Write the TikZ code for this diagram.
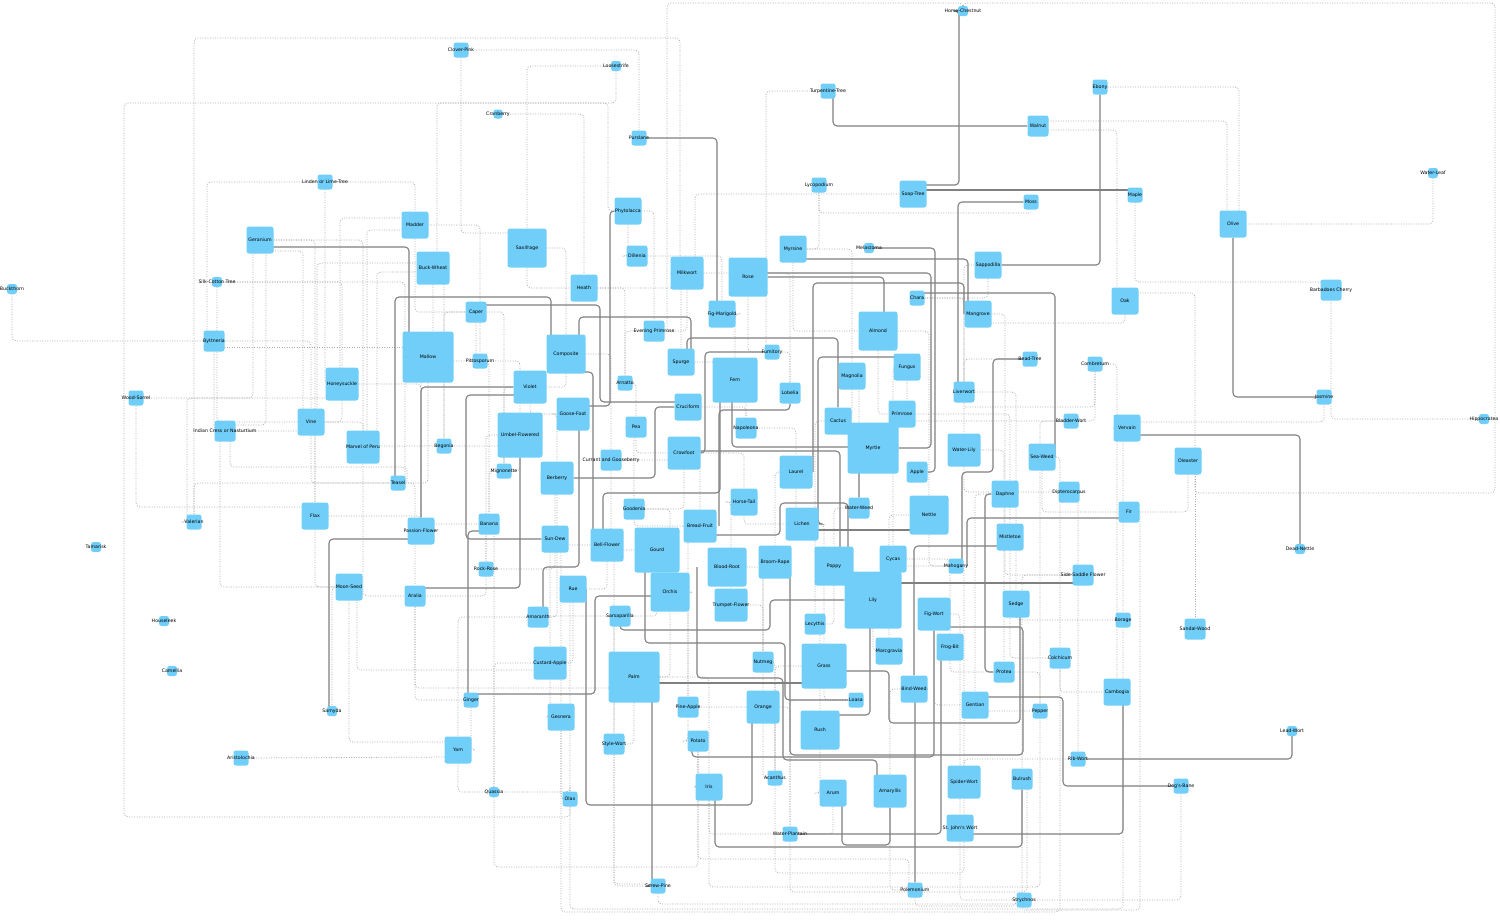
\documentclass[tikz,border=0pt]{standalone}
\usepackage{fontspec}
\usepackage{xcolor}
\usepackage{tikz}
\usetikzlibrary{backgrounds}
\newfontfamily\plantfont{DejaVu Sans}
\definecolor{plantblue}{RGB}{112,206,248}
\definecolor{linkgray}{RGB}{128,128,128}
\definecolor{faintgray}{RGB}{172,172,172}
% label that may run past its box
\newcommand{\pname}[1]{\makebox[0pt]{#1}}

\begin{document}
\begin{tikzpicture}[x=1pt, y=-1pt,
    plant/.style={fill=plantblue, rounded corners=2.5pt, minimum size=#1, inner sep=0pt, text=black, font=\plantfont\fontsize{4.7}{5}\selectfont},
    link/.style={draw=linkgray, line width=1.1pt, rounded corners=4pt},
    faint/.style={draw=faintgray, line width=0.75pt, dash pattern=on 1pt off 1.5pt, rounded corners=4pt}
]
    \useasboundingbox (0,0) rectangle (1500,919);

    % Plants
    \node[plant=10] (horsechestnut) at (963,11) {\pname{Horse-Chestnut}};
    \node[plant=15] (cloverpink) at (461,50) {\pname{Clover-Pink}};
    \node[plant=10] (loosestrife) at (616,66) {\pname{Loosestrife}};
    \node[plant=9] (cranberry) at (498,114) {\pname{Cranberry}};
    \node[plant=15] (turpentine) at (828,91) {\pname{Turpentine-Tree}};
    \node[plant=15] (ebony) at (1100,87) {\pname{Ebony}};
    \node[plant=21] (walnut) at (1038,126) {\pname{Walnut}};
    \node[plant=15] (purslane) at (639,138) {\pname{Purslane}};
    \node[plant=15] (linden) at (325,182) {\pname{Linden or Lime-Tree}};
    \node[plant=15] (lycopodium) at (819,185) {\pname{Lycopodium}};
    \node[plant=27] (soaptree) at (913,194) {\pname{Soap-Tree}};
    \node[plant=15] (maple) at (1135,195) {\pname{Maple}};
    \node[plant=15] (moss) at (1031,202) {\pname{Moss}};
    \node[plant=10] (waterleaf) at (1433,173) {\pname{Water-Leaf}};
    \node[plant=27] (olive) at (1233,224) {\pname{Olive}};
    \node[plant=27] (geranium) at (260,240) {\pname{Geranium}};
    \node[plant=27] (madder) at (415,225) {\pname{Madder}};
    \node[plant=39] (saxifrage) at (527,248) {\pname{Saxifrage}};
    \node[plant=27] (phytolacca) at (628,211) {\pname{Phytolacca}};
    \node[plant=10] (silkcotton) at (217,282) {\pname{Silk-Cotton Tree}};
    \node[plant=10] (buckthorn) at (12,289) {\pname{Buckthorn}};
    \node[plant=33] (buckwheat) at (433,268) {\pname{Buck-Wheat}};
    \node[plant=21] (dillenia) at (637,256) {\pname{Dillenia}};
    \node[plant=33] (milkwort) at (687,273) {\pname{Milkwort}};
    \node[plant=39] (rose) at (748,277) {\pname{Rose}};
    \node[plant=27] (myrsine) at (793,249) {\pname{Myrsine}};
    \node[plant=10] (melastoma) at (869,248) {\pname{Melastoma}};
    \node[plant=27] (sappodilla) at (988,265) {\pname{Sappodilla}};
    \node[plant=27] (heath) at (584,288) {\pname{Heath}};
    \node[plant=15] (chara) at (917,298) {\pname{Chara}};
    \node[plant=21] (barbadoes) at (1331,290) {\pname{Barbadoes Cherry}};
    \node[plant=27] (oak) at (1125,301) {\pname{Oak}};
    \node[plant=27] (mangrove) at (978,314) {\pname{Mangrove}};
    \node[plant=27] (figmarigold) at (722,314) {\pname{Fig-Marigold}};
    \node[plant=21] (caper) at (476,312) {\pname{Caper}};
    \node[plant=21] (byttneria) at (214,341) {\pname{Byttneria}};
    \node[plant=51] (mallow) at (428,357) {\pname{Mallow}};
    \node[plant=15] (pittosporum) at (480,361) {\pname{Pittosporum}};
    \node[plant=39] (composite) at (566,354) {\pname{Composite}};
    \node[plant=21] (eveningprimrose) at (654,331) {\pname{Evening Primrose}};
    \node[plant=39] (almond) at (878,331) {\pname{Almond}};
    \node[plant=27] (spurge) at (681,362) {\pname{Spurge}};
    \node[plant=15] (fumitory) at (772,352) {\pname{Fumitory}};
    \node[plant=45] (fern) at (735,380) {\pname{Fern}};
    \node[plant=27] (magnolia) at (852,376) {\pname{Magnolia}};
    \node[plant=27] (fungus) at (907,367) {\pname{Fungus}};
    \node[plant=15] (beadtree) at (1030,359) {\pname{Bead-Tree}};
    \node[plant=15] (combretum) at (1095,364) {\pname{Combretum}};
    \node[plant=33] (honeysuckle) at (342,384) {\pname{Honeysuckle}};
    \node[plant=33] (violet) at (530,387) {\pname{Violet}};
    \node[plant=15] (arnatto) at (625,383) {\pname{Arnatto}};
    \node[plant=21] (lobelia) at (790,393) {\pname{Lobelia}};
    \node[plant=21] (liverwort) at (964,392) {\pname{Liverwort}};
    \node[plant=15] (jasmine) at (1324,397) {\pname{Jasmine}};
    \node[plant=15] (woodsorrel) at (136,398) {\pname{Wood-Sorrel}};
    \node[plant=27] (cruciform) at (688,407) {\pname{Cruciform}};
    \node[plant=27] (cactus) at (838,421) {\pname{Cactus}};
    \node[plant=27] (primrose) at (902,414) {\pname{Primrose}};
    \node[plant=15] (bladderwort) at (1071,421) {\pname{Bladder-Wort}};
    \node[plant=27] (vervain) at (1127,428) {\pname{Vervain}};
    \node[plant=10] (hippocratea) at (1484,419) {\pname{Hippocratea}};
    \node[plant=21] (indiancress) at (225,431) {\pname{Indian Cress or Nasturtium}};
    \node[plant=27] (vine) at (311,422) {\pname{Vine}};
    \node[plant=33] (goosefoot) at (573,414) {\pname{Goose-Foot}};
    \node[plant=21] (pea) at (636,427) {\pname{Pea}};
    \node[plant=21] (napoleona) at (746,428) {\pname{Napoleona}};
    \node[plant=51] (myrtle) at (873,448) {\pname{Myrtle}};
    \node[plant=45] (umbel) at (520,435) {\pname{Umbel-Flowered}};
    \node[plant=33] (marvel) at (363,447) {\pname{Marvel of Peru}};
    \node[plant=15] (begonia) at (444,446) {\pname{Begonia}};
    \node[plant=21] (currant) at (611,460) {\pname{Currant and Gooseberry}};
    \node[plant=33] (crowfoot) at (684,453) {\pname{Crowfoot}};
    \node[plant=33] (waterlily) at (964,450) {\pname{Water-Lily}};
    \node[plant=27] (seaweed) at (1042,457) {\pname{Sea-Weed}};
    \node[plant=27] (oleaster) at (1188,461) {\pname{Oleaster}};
    \node[plant=15] (mignonette) at (504,471) {\pname{Mignonette}};
    \node[plant=33] (berberry) at (557,478) {\pname{Berberry}};
    \node[plant=33] (laurel) at (796,472) {\pname{Laurel}};
    \node[plant=21] (apple) at (917,472) {\pname{Apple}};
    \node[plant=15] (teasel) at (398,483) {\pname{Teasel}};
    \node[plant=27] (daphne) at (1005,494) {\pname{Daphne}};
    \node[plant=21] (dipterocarpus) at (1069,492) {\pname{Dipterocarpus}};
    \node[plant=27] (horsetail) at (744,502) {\pname{Horse-Tail}};
    \node[plant=21] (waterweed) at (859,508) {\pname{Water-Weed}};
    \node[plant=21] (goodenia) at (634,509) {\pname{Goodenia}};
    \node[plant=39] (nettle) at (929,515) {\pname{Nettle}};
    \node[plant=21] (fir) at (1129,512) {\pname{Fir}};
    \node[plant=27] (flax) at (315,516) {\pname{Flax}};
    \node[plant=15] (valerian) at (194,522) {\pname{Valerian}};
    \node[plant=27] (passionflower) at (421,531) {\pname{Passion-Flower}};
    \node[plant=21] (banana) at (489,524) {\pname{Banana}};
    \node[plant=33] (breadfruit) at (700,526) {\pname{Bread-Fruit}};
    \node[plant=33] (lichen) at (802,524) {\pname{Lichen}};
    \node[plant=27] (mistletoe) at (1010,537) {\pname{Mistletoe}};
    \node[plant=10] (tamarisk) at (96,547) {\pname{Tamarisk}};
    \node[plant=27] (sundew) at (555,539) {\pname{Sun-Dew}};
    \node[plant=33] (bellflower) at (607,545) {\pname{Bell-Flower}};
    \node[plant=45] (gourd) at (657,550) {\pname{Gourd}};
    \node[plant=27] (cycas) at (893,559) {\pname{Cycas}};
    \node[plant=10] (deadnettle) at (1300,549) {\pname{Dead-Nettle}};
    \node[plant=33] (broomrape) at (775,562) {\pname{Broom-Rape}};
    \node[plant=39] (poppy) at (834,566) {\pname{Poppy}};
    \node[plant=15] (mahogany) at (956,566) {\pname{Mahogany}};
    \node[plant=15] (rockrose) at (486,569) {\pname{Rock-Rose}};
    \node[plant=39] (bloodroot) at (727,567) {\pname{Blood-Root}};
    \node[plant=21] (sidesaddle) at (1083,575) {\pname{Side-Saddle Flower}};
    \node[plant=27] (moonseed) at (349,587) {\pname{Moon-Seed}};
    \node[plant=27] (rue) at (573,589) {\pname{Rue}};
    \node[plant=39] (orchis) at (670,592) {\pname{Orchis}};
    \node[plant=57] (lily) at (873,600) {\pname{Lily}};
    \node[plant=21] (aralia) at (415,596) {\pname{Aralia}};
    \node[plant=33] (trumpet) at (731,605) {\pname{Trumpet-Flower}};
    \node[plant=27] (sedge) at (1016,604) {\pname{Sedge}};
    \node[plant=21] (amaranth) at (538,617) {\pname{Amaranth}};
    \node[plant=21] (sarsaparilla) at (620,616) {\pname{Sarsaparilla}};
    \node[plant=33] (figwort) at (934,614) {\pname{Fig-Wort}};
    \node[plant=15] (borage) at (1123,620) {\pname{Borage}};
    \node[plant=21] (lecythis) at (815,624) {\pname{Lecythis}};
    \node[plant=21] (sandalwood) at (1195,629) {\pname{Sandal-Wood}};
    \node[plant=10] (houseleek) at (164,621) {\pname{Houseleek}};
    \node[plant=27] (frogbit) at (950,647) {\pname{Frog-Bit}};
    \node[plant=27] (marcgravia) at (889,651) {\pname{Marcgravia}};
    \node[plant=33] (custardapple) at (550,663) {\pname{Custard-Apple}};
    \node[plant=45] (grass) at (824,666) {\pname{Grass}};
    \node[plant=21] (colchicum) at (1060,658) {\pname{Colchicum}};
    \node[plant=21] (nutmeg) at (763,662) {\pname{Nutmeg}};
    \node[plant=10] (camellia) at (172,671) {\pname{Camellia}};
    \node[plant=21] (protea) at (1004,672) {\pname{Protea}};
    \node[plant=51] (palm) at (634,677) {\pname{Palm}};
    \node[plant=27] (cambogia) at (1117,692) {\pname{Cambogia}};
    \node[plant=15] (loasa) at (856,700) {\pname{Loasa}};
    \node[plant=27] (bindweed) at (914,689) {\pname{Bind-Weed}};
    \node[plant=15] (ginger) at (471,700) {\pname{Ginger}};
    \node[plant=27] (gentian) at (975,705) {\pname{Gentian}};
    \node[plant=21] (pineapple) at (688,707) {\pname{Pine-Apple}};
    \node[plant=33] (orange) at (763,707) {\pname{Orange}};
    \node[plant=10] (samyda) at (332,711) {\pname{Samyda}};
    \node[plant=15] (pepper) at (1040,711) {\pname{Pepper}};
    \node[plant=27] (gesnera) at (561,717) {\pname{Gesnera}};
    \node[plant=39] (rush) at (820,730) {\pname{Rush}};
    \node[plant=10] (leadwort) at (1292,731) {\pname{Lead-Wort}};
    \node[plant=21] (stylewort) at (614,744) {\pname{Style-Wort}};
    \node[plant=21] (potato) at (698,741) {\pname{Potato}};
    \node[plant=27] (yam) at (458,750) {\pname{Yam}};
    \node[plant=15] (aristolochia) at (241,758) {\pname{Aristolochia}};
    \node[plant=15] (ribwort) at (1078,759) {\pname{Rib-Wort}};
    \node[plant=15] (acanthus) at (775,778) {\pname{Acanthus}};
    \node[plant=21] (bulrush) at (1022,779) {\pname{Bulrush}};
    \node[plant=15] (dogsbane) at (1181,786) {\pname{Dog's-Bane}};
    \node[plant=33] (spiderwort) at (964,782) {\pname{Spider-Wort}};
    \node[plant=27] (iris) at (709,787) {\pname{Iris}};
    \node[plant=27] (arum) at (833,793) {\pname{Arum}};
    \node[plant=33] (amaryllis) at (890,791) {\pname{Amaryllis}};
    \node[plant=10] (quassia) at (494,792) {\pname{Quassia}};
    \node[plant=15] (olax) at (570,799) {\pname{Olax}};
    \node[plant=27] (stjohns) at (960,828) {\pname{St. John's Wort}};
    \node[plant=15] (waterplantain) at (790,834) {\pname{Water-Plantain}};
    \node[plant=15] (screwpine) at (658,886) {\pname{Screw-Pine}};
    \node[plant=15] (polemonium) at (915,890) {\pname{Polemonium}};
    \node[plant=15] (strychnos) at (1024,900) {\pname{Strychnos}};

    \begin{pgfonlayer}{background}
    % Dotted links, long ones
    \draw[faint] (buckthorn) |- (byttneria);
    \draw[faint] (phytolacca) -- ++(-20,0) -- ++(0,-108) -- ++(-484,0) -- ++(0,714) -| (olax);
    \draw[faint] (buckwheat) -- ++(4,0) -- ++(0,-165) -| (loosestrife);
    \draw[faint] (milkwort) -- ++(-7,0) -- ++(0,-235) -| (valerian);
    \draw[faint] (horsechestnut) -- ++(0,-8) -| ([xshift=13pt]eveningprimrose.center);
    \draw[faint] (horsechestnut) -- ++(0,-8) -- ++(532,0) -- ++(0,490) -| ([xshift=7pt]oleaster.center);
    \draw[faint] (waterleaf) |- (olive);
    \draw[faint] (barbadoes) |- (hippocratea);
    \draw[faint] (maple) |- ([yshift=8pt]barbadoes.center);
    \draw[faint] (ebony) -| ([xshift=6pt]olive.center);
    \draw[faint] ([yshift=5pt]walnut.center) -| ([xshift=-6pt]olive.center);
    \draw[faint] ([yshift=-4pt]walnut.center) -| ([xshift=-8pt]oak.center);
    \draw[faint] (jasmine) |- ([yshift=6pt]vervain.center);
    \draw[faint] (combretum) |- ([yshift=-15pt]liverwort.center);
    \draw[faint] ([yshift=8pt]oak.center) -| ([xshift=7pt]oleaster.center);
    \draw[faint] (oak) |- ([yshift=-9pt]mangrove.center);
    \draw[faint] ([xshift=7pt]oleaster.center) |- (sandalwood);
    \draw[faint] (dogsbane) |- (strychnos);
    \draw[faint] (aristolochia) -- ([yshift=-7pt]yam.center);
    \draw[faint] (moonseed) |- ([yshift=8pt]yam.center);
    \draw[faint] ([xshift=8pt]moonseed.center) |- ([yshift=-7pt]custardapple.center);
    \draw[faint] (aralia) |- ([yshift=-11pt]palm.center);
    \draw[faint] (quassia) |- (banana);
    \draw[faint] (woodsorrel) |- ([yshift=9pt]flax.center);
    \draw[faint] ([yshift=-6pt]byttneria.center) -- ([yshift=10pt]mallow.center);
    \draw[faint] (woodsorrel) -| ([xshift=-7pt]geranium.center);
    \draw[faint] (valerian) -- ++(-7,0) |- ([yshift=-14pt]honeysuckle.center);
    \draw[faint] ([xshift=5pt]indiancress.center) -- ++(0,36) -| ([xshift=9pt]teasel.center);
    \draw[faint] ([xshift=-5pt]indiancress.center) |- (moonseed);
    \draw[faint] (valerian) |- (teasel);
    \draw[faint] (linden) -| ([xshift=-7pt]byttneria.center);
    \draw[faint] (linden) |- (honeysuckle);
    \draw[faint] (silkcotton) -| ([xshift=7pt]teasel.center);
    \draw[faint] ([yshift=-11pt]geranium.center) -| ([xshift=-8pt]vine.center);
    \draw[faint] ([xshift=6pt]geranium.center) |- ([yshift=6pt]indiancress.center);
    \draw[faint] ([yshift=7pt]madder.center) -| ([xshift=-2pt]honeysuckle.center);
    \draw[faint] ([yshift=-5pt]madder.center) -| ([xshift=4pt]marvel.center);
    \draw[faint] ([yshift=5pt]buckwheat.center) -| ([xshift=6pt]vine.center);
    \draw[faint] ([yshift=-4pt]buckwheat.center) -| ([xshift=14pt]marvel.center);
    \draw[faint] (cloverpink) |- ([yshift=15pt]saxifrage.center);
    \draw[faint] (cloverpink) -| (purslane);
    \draw[faint] (cranberry) -| (heath);
    \draw[faint] (loosestrife) -| (saxifrage);
    \draw[faint] (turpentine) -| ([xshift=-6pt]fumitory.center);
    \draw[faint] (lycopodium) |- ([yshift=-11pt]moss.center);
    \draw[faint] (lycopodium) |- (myrsine);
    \draw[faint] (soaptree) -| ([xshift=8pt]milkwort.center);
    \draw[faint] (screwpine) -- ++(0,18) -| (strychnos);
    \draw[faint] (olax) -- ++(0,110) -| (borage);
    \draw[faint] (gesnera) -- ++(0,195) -| (colchicum);
    \draw[faint] (iris) -- ++(0,100) -| (pepper);
    \draw[faint] (fir) -- ++(11,0) |- ([yshift=-10pt]strychnos.center);
    \draw[faint] (polemonium) -- ++(0,16) -| ([xshift=-8pt]strychnos.center);
    \draw[faint] (acanthus) -- ++(0,95) -| (spiderwort);
    \draw[faint] (waterplantain) -- ++(0,58) -| ([xshift=5pt]bulrush.center);
    \draw[faint] (potato) -- ++(0,118) -| ([xshift=-6pt]polemonium.center);
    \draw[faint] (stylewort) -- ++(0,140) -| ([xshift=-6pt]screwpine.center);
    \draw[faint] (quassia) -- ++(0,75) -| (potato);
    % Dotted links, short ones
    \foreach \a/\b in {saxifrage/composite, heath/spurge, dillenia/figmarigold, milkwort/lobelia,
        myrsine/magnolia, sappodilla/liverwort, chara/waterlily, mangrove/daphne, almond/nettle,
        fungus/cycas, magnolia/waterweed, cactus/lecythis, primrose/mistletoe, liverwort/sedge,
        waterlily/protea, seaweed/colchicum, bladderwort/pepper, vervain/borage, combretum/cambogia,
        dipterocarpus/ribwort, daphne/gentian, nettle/marcgravia, mahogany/spiderwort,
        sidesaddle/bulrush, figwort/stjohns, protea/pepper, bindweed/amaryllis, grass/acanthus,
        loasa/waterplantain, lecythis/rush, cycas/frogbit, broomrape/nutmeg, lichen/grass,
        laurel/broomrape, horsetail/trumpet, waterweed/poppy, breadfruit/pineapple, goodenia/orchis,
        gourd/stylewort, bellflower/gesnera, sundew/custardapple, rue/olax, amaranth/yam,
        sarsaparilla/stylewort, custardapple/quassia, palm/iris, pineapple/acanthus,
        orange/waterplantain, nutmeg/acanthus, trumpet/orange, orchis/pineapple, bloodroot/nutmeg,
        napoleona/laurel, pea/goodenia, currant/breadfruit, crowfoot/horsetail, cruciform/napoleona,
        arnatto/pea, eveningprimrose/arnatto, spurge/napoleona, fumitory/lobelia, figmarigold/fern,
        phytolacca/eveningprimrose, heath/arnatto, composite/currant, violet/mignonette,
        goosefoot/berberry, umbel/rockrose, mignonette/banana, berberry/sundew, pittosporum/umbel,
        caper/begonia, mallow/passionflower, begonia/mignonette, teasel/aralia, vine/marvel,
        flax/passionflower, banana/rockrose, moonseed/samyda, geranium/flax, byttneria/vine,
        silkcotton/honeysuckle, honeysuckle/passionflower, indiancress/flax, madder/pittosporum,
        buckwheat/begonia, geranium/marvel, caper/mignonette, pittosporum/banana, linden/madder}
        \draw[faint] (\a) -| (\b);
    \foreach \a/\b in {madder/caper, buckwheat/pittosporum, saxifrage/heath, phytolacca/dillenia,
        milkwort/eveningprimrose, rose/fumitory, myrsine/almond, sappodilla/chara, almond/primrose,
        magnolia/cactus, fungus/bladderwort, liverwort/beadtree, waterlily/dipterocarpus,
        seaweed/fir, oleaster/fir, combretum/bladderwort, daphne/sidesaddle, mistletoe/colchicum,
        nettle/mahogany, cycas/mahogany, poppy/lecythis, lily/marcgravia, figwort/gentian,
        frogbit/protea, sedge/borage, colchicum/cambogia, gentian/pepper, spiderwort/ribwort,
        bulrush/strychnos, stjohns/strychnos, amaryllis/polemonium, arum/waterplantain, rush/arum,
        grass/loasa, orange/acanthus, iris/waterplantain, potato/iris, pineapple/potato,
        palm/stylewort, gesnera/olax, custardapple/gesnera, stylewort/screwpine, rue/custardapple,
        amaranth/sarsaparilla, bellflower/rue, sundew/rockrose, gourd/sarsaparilla, orchis/palm,
        goodenia/breadfruit, horsetail/lichen, laurel/lichen, crowfoot/goodenia, pea/crowfoot,
        currant/bellflower, berberry/amaranth, umbel/mignonette, violet/goosefoot, composite/violet,
        caper/pittosporum, mallow/teasel, honeysuckle/vine, marvel/begonia, flax/moonseed,
        passionflower/banana, aralia/ginger, ginger/yam, yam/quassia, rockrose/aralia,
        vine/teasel, marvel/aralia, byttneria/indiancress, silkcotton/vine, olax/quassia}
        \draw[faint] (\a) |- (\b);

    % Solid links
    \draw[link] (horsechestnut) -- ++(-4,0) |- ([yshift=9pt]soaptree.center);
    \draw[link] ([xshift=5pt]turpentine.center) |- (walnut);
    \draw[link] (ebony) |- (sappodilla);
    \draw[link] ([yshift=4pt]soaptree.center) -- ([yshift=5pt]maple.center);
    \draw[link] ([xshift=-6pt]liverwort.center) |- (moss);
    \draw[link] (purslane) -| ([xshift=-5pt]figmarigold.center);
    \draw[link] ([yshift=-7pt]geranium.center) -| ([xshift=-19pt]mallow.center);
    \draw[link] ([xshift=-3pt]teasel.center) -- ++(0,-186) -| ([xshift=-15pt]composite.center);
    \draw[link] ([yshift=7pt]caper.center) -- ++(124,0) |- ([yshift=5pt]cruciform.center);
    \draw[link] (phytolacca) -- ++(-18,0) |- ([yshift=8pt]goosefoot.center);
    \draw[link] (passionflower) |- (violet);
    \draw[link] ([yshift=-8pt]passionflower.center) -| ([xshift=-3pt]samyda.center);
    \draw[link] ([yshift=-8pt]violet.center) -- ++(-64,0) |- (sundew);
    \draw[link] ([yshift=-7pt]banana.center) -| ([xshift=-3pt]ginger.center);
    \draw[link] ([yshift=8pt]aralia.center) -| (umbel);
    \draw[link] ([xshift=5pt]amaranth.center) -- ++(0,-50) -| ([xshift=6pt]goosefoot.center);
    \draw[link] ([yshift=-18pt]composite.center) -| ([xshift=-14pt]bellflower.center);
    \draw[link] ([xshift=-4pt]bellflower.center) -- ++(0,-52) -| ([xshift=-15pt]fern.center);
    \draw[link] ([xshift=13pt]composite.center) -- ++(0,-37) -| ([xshift=10pt]spurge.center);
    \draw[link] (rose) -| ([xshift=6pt]almond.center);
    \draw[link] ([yshift=4pt]rose.center) -- ++(183,0) |- (myrtle);
    \draw[link] (melastoma) -- ++(66,0) |- (apple);
    \draw[link] ([yshift=-10pt]myrsine.center) -| ([xshift=-10pt]mangrove.center);
    \draw[link] ([yshift=5pt]chara.center) -| ([xshift=13pt]seaweed.center);
    \draw[link] ([xshift=-14pt]mangrove.center) -- ++(0,-31) -| ([xshift=17pt]laurel.center);
    \draw[link] ([yshift=10pt]fungus.center) -- ++(-89,0) |- (lichen);
    \draw[link] ([xshift=6pt]spurge.center) -- ++(0,-24) -| (cactus);
    \draw[link] (fumitory) -- ++(-67,0) |- (crowfoot);
    \draw[link] ([xshift=-3pt]fern.center) -- ++(0,67) -| (waterweed);
    \draw[link] ([yshift=2pt]crowfoot.center) -| ([xshift=6pt]poppy.center);
    \draw[link] (lobelia) -- ++(0,17) -| ([xshift=19pt]breadfruit.center);
    \draw[link] (berberry) -- ++(98,0) |- (cruciform);
    \draw[link] ([yshift=-9pt]breadfruit.center) -- ++(80,0) -- ++(0,-32) -| ([xshift=-25pt]lily.center);
    \draw[link] ([yshift=-15pt]nettle.center) -- ([yshift=-6pt]lichen.center);
    \draw[link] (sarsaparilla) -- ++(0,14) -- ++(150,0) |- (lily);
    \draw[link] ([xshift=-12pt]gourd.center) -- ++(0,93) -- ++(140,0) |- (loasa);
    \draw[link] ([yshift=-4pt]orchis.center) -- ++(-75,0) |- ([yshift=6pt]ginger.center);
    \draw[link] ([xshift=-30pt]bloodroot.center) -- ++(0,111) -- ++(86,0) -- ++(0,82) -| ([xshift=-13pt]amaryllis.center);
    \draw[link] ([xshift=-11pt]orange.center) -- ++(0,98) -| ([xshift=13pt]rue.center);
    \draw[link] ([xshift=6pt]iris.center) -- ++(0,60) -| (bulrush);
    \draw[link] ([xshift=9pt]arum.center) -- ++(0,52) -| (amaryllis);
    \draw[link] (waterplantain) -| ([xshift=-9pt]frogbit.center);
    \draw[link] ([xshift=6pt]cambogia.center) |- ([yshift=-6pt]stjohns.center);
    \draw[link] (dogsbane) -- ++(-118,0) |- ([yshift=8pt]gentian.center);
    \draw[link] (ribwort) -| (leadwort);
    \draw[link] ([yshift=-5pt]grass.center) -- ++(65,0) -- ++(0,52) -| ([xshift=4pt]sedge.center);
    \draw[link] ([yshift=-6pt]palm.center) -- ([yshift=-17pt]grass.center);
    \draw[link] (screwpine) -- ++(-6,0) |- (palm);
    \draw[link] (polemonium) |- (bindweed);
    \draw[link] (olive) |- (jasmine);
    \draw[link] ([yshift=-7pt]vervain.center) -| (deadnettle);
    \draw[link] ([yshift=-6pt]fir.center) -| ([xshift=11pt]mahogany.center);
    \draw[link] (beadtree) -- ++(-37,0) -- ++(0,113) -| ([xshift=6pt]mahogany.center);
    \draw[link] ([yshift=-13pt]figwort.center) -- ++(89,0) -- ++(0,128) -| ([xshift=15pt]broomrape.center);
    \draw[link] ([xshift=-6pt]potato.center) -- ++(0,16) -| (figwort);
    \draw[link] ([xshift=-3pt]lily.center) |- ([yshift=15pt]rush.center);
    \draw[link] ([yshift=17pt]lily.center) -- ([yshift=-8pt]sidesaddle.center);
    \draw[link] ([yshift=-9pt]mistletoe.center) -| (bindweed);
    \draw[link] (protea) -- ++(-19,0) |- (daphne);
    \end{pgfonlayer}
\end{tikzpicture}
\end{document}
